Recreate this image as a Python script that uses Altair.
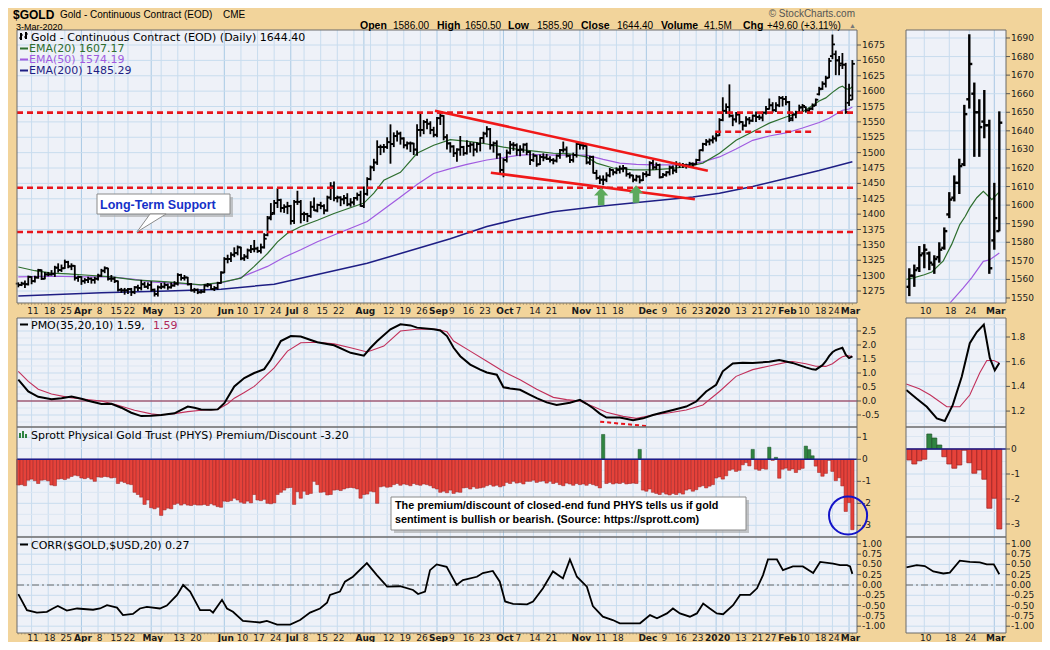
import altair as alt
import pandas as pd

# ---------------- price bars: (open, high, low, close) per trading day ----------------
MAR19 = [(1287,1289,1281,1285),(1285,1290,1283,1287),(1287,1292,1280,1286),(1286,1300,1284,1298),
         (1298,1299,1286,1291),(1291,1300,1289,1297),(1297,1311,1295,1309),(1309,1310,1293,1295),(1295,1306,1294,1302),
         (1302,1306,1299,1302),(1302,1309,1300,1303),(1303,1316,1298,1313),(1313,1320,1305,1309),(1309,1318,1306,1312),
         (1312,1326,1311,1322),(1322,1324,1312,1315),(1315,1320,1309,1316),(1316,1317,1292,1296),(1296,1300,1290,1298)]
APR19 = [(1298,1299,1285,1291),(1291,1296,1287,1293),(1293,1298,1288,1295),(1295,1297,1287,1293),(1293,1298,1287,1295),
         (1295,1303,1292,1300),(1300,1311,1298,1308),(1308,1315,1304,1312),(1312,1313,1292,1295),(1295,1301,1290,1295),
         (1295,1298,1288,1291),(1291,1292,1274,1277),(1277,1280,1272,1276),(1276,1280,1269,1276),
         (1276,1280,1270,1278),(1278,1280,1267,1273),(1273,1283,1270,1281),(1281,1285,1275,1280),(1280,1293,1276,1286),
         (1286,1290,1280,1282),(1282,1289,1278,1285)]
MAY19 = [(1285,1291,1274,1277),(1277,1279,1266,1270),(1270,1284,1266,1281),
         (1281,1288,1278,1282),(1282,1289,1279,1285),(1285,1287,1277,1281),(1281,1289,1279,1284),(1284,1291,1282,1287),
         (1287,1304,1284,1301),(1301,1303,1292,1296),(1296,1301,1292,1297),(1297,1298,1284,1286),(1286,1288,1274,1276),
         (1276,1280,1272,1277),(1277,1279,1270,1273),(1273,1277,1271,1274),(1274,1286,1272,1284),(1284,1288,1281,1285),
         (1285,1286,1277,1278),(1278,1283,1275,1280),(1280,1290,1277,1288),(1288,1307,1287,1305)]
JUN19 = [(1305,1330,1304,1327),(1327,1334,1320,1327),(1327,1338,1322,1334),(1334,1346,1330,1337),(1337,1349,1333,1346),
         (1346,1347,1325,1328),(1328,1335,1324,1331),(1331,1344,1327,1341),(1341,1350,1337,1343),(1343,1358,1338,1344),
         (1344,1347,1337,1340),(1340,1352,1336,1346),(1346,1369,1344,1360),(1366,1397,1364,1393),(1395,1418,1390,1400),
         (1402,1423,1399,1418),(1418,1442,1410,1423),(1423,1425,1403,1410),(1410,1416,1402,1412),(1412,1420,1400,1413)]
JUL19 = [(1413,1415,1383,1389),(1389,1423,1384,1420),(1420,1438,1415,1420),(1420,1423,1385,1400),
         (1400,1404,1389,1400),(1400,1402,1387,1397),(1397,1421,1394,1412),(1412,1427,1405,1406),(1406,1417,1403,1415),
         (1415,1420,1408,1413),(1413,1416,1400,1406),(1406,1430,1404,1427),(1427,1452,1423,1445),(1445,1453,1421,1426),
         (1426,1430,1419,1427),(1427,1429,1413,1424),(1424,1431,1416,1426),(1426,1434,1413,1416),(1416,1426,1412,1419),
         (1419,1428,1414,1426),(1426,1435,1422,1431),(1431,1438,1412,1413)]
AUG19 = [(1413,1445,1410,1433),(1433,1460,1430,1457),
         (1457,1479,1455,1476),(1476,1490,1470,1484),(1484,1520,1480,1509),(1509,1513,1496,1509),(1509,1514,1500,1509),
         (1509,1525,1506,1517),(1517,1546,1482,1514),(1514,1533,1509,1527),(1527,1536,1518,1531),(1531,1534,1513,1523),
         (1523,1525,1507,1512),(1512,1518,1505,1515),(1515,1518,1501,1515),(1515,1516,1496,1505),(1505,1546,1495,1537),
         (1537,1566,1526,1537),(1537,1553,1530,1550),(1550,1555,1538,1547),(1547,1551,1530,1537),(1537,1542,1525,1529)]
SEP19 = [(1529,1558,1525,1556),(1556,1566,1545,1560),(1560,1561,1520,1525),(1525,1530,1505,1515),
         (1515,1517,1500,1510),(1510,1512,1493,1499),(1499,1507,1485,1505),(1505,1527,1495,1509),(1509,1511,1495,1499),
         (1499,1520,1497,1511),(1511,1517,1500,1513),(1513,1517,1494,1505),(1505,1517,1500,1514),(1514,1525,1502,1524),
         (1524,1534,1515,1531),(1531,1543,1525,1538),(1538,1540,1505,1512),(1512,1518,1500,1515),(1515,1520,1490,1497),
         (1497,1499,1465,1472)]
OCT19 = [(1472,1491,1460,1488),(1488,1505,1484,1500),(1500,1519,1497,1513),(1513,1517,1503,1512),
         (1512,1515,1495,1504),(1504,1512,1494,1505),(1505,1515,1500,1513),(1513,1516,1496,1501),(1501,1503,1480,1488),
         (1488,1499,1485,1495),(1495,1496,1477,1481),(1481,1497,1480,1493),(1493,1499,1486,1492),(1492,1498,1488,1490),
         (1490,1494,1484,1488),(1488,1491,1481,1487),(1487,1497,1484,1495),(1495,1506,1490,1504),(1504,1518,1500,1505),
         (1505,1510,1492,1495),(1495,1497,1483,1488),(1488,1500,1484,1496),(1496,1516,1492,1514)]
NOV19 = [(1514,1517,1505,1512),
         (1512,1515,1505,1511),(1511,1512,1481,1484),(1484,1495,1480,1493),(1493,1495,1466,1467),(1467,1472,1456,1459),
         (1459,1463,1449,1456),(1456,1463,1447,1456),(1456,1468,1452,1463),(1463,1475,1460,1472),(1472,1473,1463,1468),
         (1468,1476,1465,1472),(1472,1479,1466,1474),(1474,1480,1468,1475),(1475,1476,1461,1465),(1465,1468,1458,1463),
         (1463,1464,1452,1456),(1456,1464,1453,1461),(1461,1463,1450,1455),(1455,1468,1454,1465)]
DEC19 = [(1465,1470,1460,1464),(1464,1486,1462,1483),(1483,1488,1472,1476),(1476,1484,1472,1480),(1480,1482,1458,1460),
         (1460,1467,1459,1464),(1464,1470,1461,1468),(1468,1479,1463,1476),(1476,1479,1465,1471),(1471,1486,1467,1481),
         (1481,1484,1475,1480),(1480,1483,1475,1480),(1480,1482,1474,1479),(1479,1485,1475,1482),(1482,1484,1475,1481),
         (1481,1490,1480,1488),(1488,1505,1486,1504),(1504,1516,1502,1514),(1514,1522,1511,1518),
         (1518,1523,1512,1520),(1520,1528,1515,1523)]
JAN20 = [(1523,1532,1518,1528),(1528,1556,1527,1553),
         (1553,1590,1551,1568),(1568,1580,1563,1574),(1574,1611,1557,1560),(1560,1562,1543,1554),(1554,1566,1549,1562),
         (1562,1563,1546,1550),(1550,1551,1536,1544),(1544,1559,1542,1554),(1554,1558,1546,1552),(1552,1562,1550,1560),
         (1560,1567,1550,1558),(1558,1562,1553,1557),(1557,1567,1551,1565),(1565,1576,1562,1571),
         (1571,1588,1570,1577),(1577,1582,1565,1569),(1569,1582,1566,1577),(1577,1592,1574,1589),(1589,1592,1575,1587)]
FEB20 = [(1587,1592,1577,1582),(1582,1584,1550,1553),(1556,1566,1551,1562),(1562,1568,1556,1565),(1566,1578,1564,1573),
         (1574,1579,1566,1576),(1574,1575,1565,1569),(1568,1573,1563,1571),(1572,1580,1569,1576),(1577,1588,1576,1586),
         (1595,1607,1593,1603),(1604,1616,1602,1612),(1612,1625,1606,1621),(1622,1654,1621,1649),
         (1657,1692,1652,1676),(1660,1666,1626,1650),(1650,1657,1626,1642),(1645,1662,1636,1643),(1643,1646,1563,1566)]
MAR20 = [(1581,1612,1576,1593),(1586,1650.5,1585.9,1644.4)]

# ---------------- moving averages (day index, value) ----------------
EMA20 = [(0,1314),(5,1308),(10,1304),(15,1303),(20,1301),(28,1298),(35,1293),(45,1290),(55,1285),(61,1289),
         (67,1296),(71,1315),(75,1336),(78,1355),(81,1369),(85,1380),(90,1390),(95,1401),(104,1418),(107,1434),
         (110,1455),(115,1468),(120,1499),(125,1512),(130,1521),(136,1518),(141,1514),(146,1509),(151,1505),
         (156,1502),(161,1499),(166,1498),(171,1493),(174,1483),(179,1475),(185,1472),(191,1472),(196,1474),
         (201,1477),(206,1483),(211,1499),(216,1520),(221,1534),(226,1548),(231,1558),(236,1566),(241,1584),
         (243,1589),(245,1598),(247,1606),(248,1608),(249,1604),(250,1603),(251,1607.17)]
EMA50 = [(0,1298),(10,1299),(20,1298),(28,1298),(35,1294),(40,1290),(48,1287),(55,1285),(61,1288),(66,1295),
         (70,1304),(75,1315),(80,1330),(85,1342),(90,1355),(95,1366),(100,1377),(105,1388),(110,1408),(115,1428),
         (120,1448),(125,1466),(130,1474),(135,1481),(141,1488),(146,1492),(151,1496),(156,1497),(161,1496),
         (166,1496),(171,1496),(176,1489),(181,1483),(186,1481),(191,1480),(196,1480),(201,1480),(206,1485),
         (211,1493),(216,1506),(221,1520),(226,1527),(231,1532),(236,1540),(241,1549),(244,1556),(248,1569),
         (250,1571),(251,1574.19)]
EMA200 = [(0,1267),(25,1272),(45,1275),(61,1278),(77,1286),(95,1308),(105,1320),(115,1336),(130,1360),
          (141,1380),(151,1393),(161,1404),(175,1413),(190,1421),(203,1428),(211,1434),(221,1445),(231,1458),
          (241,1471),(251,1485.29)]
EMA20_R = [(232.4,1560),(234,1561),(236,1562.5),(237.5,1564),(239.8,1570),(241.5,1579),(243.1,1589.5),
           (244.2,1594),(245.1,1598.5),(246.5,1604),(247.8,1607.4),(249.5,1603),(251,1607.17)]
EMA50_R = [(241.2,1547.5),(243.8,1555.4),(245.5,1561),(247.8,1569.7),(249.1,1570.6),(251,1574.19)]

# ---------------- PMO and its signal ----------------
PMO = [(0,0.76),(3,0.34),(6,0.15),(10,0.06),(13,0.1),(16,0.16),(19,0.08),(21,0.01),(25,-0.11),(28,-0.1),
       (31,-0.24),(34,-0.42),(37,-0.54),(40,-0.53),(43,-0.5),(47,-0.44),(51,-0.2),(53,-0.24),(55,-0.3),(58,-0.31),
       (60,-0.3),(62,-0.08),(65,0.52),(68,0.82),(71,1.0),(74,1.14),(76,1.48),(79,2.14),(82,2.32),(85,2.3),
       (88,2.18),(90,2.1),(95,1.99),(100,1.72),(104,1.62),(106,1.9),(108,2.14),(112,2.56),(115,2.74),(118,2.7),
       (120,2.62),(125,2.56),(127,2.52),(129,2.32),(131,1.9),(133,1.6),(136,1.3),(139,1.12),(141,1.02),(144,0.94),
       (146,0.49),(148,0.45),(151,0.4),(154,0.22),(156,0.1),(159,-0.05),(162,-0.14),(166,-0.06),(169,0.04),
       (171,-0.1),(173,-0.26),(175,-0.45),(177,-0.59),(181,-0.59),(185,-0.69),(188,-0.62),(191,-0.5),(193,-0.44),
       (197,-0.32),(201,-0.2),(204,-0.02),(207,0.34),(210,0.58),(212,1.06),(215,1.34),(218,1.37),(221,1.36),
       (226,1.40),(229,1.46),(230,1.44),(233,1.36),(235,1.28),(237,1.2),(239,1.13),(240,1.12),(242,1.28),
       (243,1.42),(244,1.6),(245,1.74),(246,1.82),(247,1.86),(248,1.9),(249,1.65),(250,1.53),(251,1.59)]
PMO_SIG = [(0,1.06),(3,0.7),(6,0.42),(10,0.25),(15,0.13),(20,0.06),(25,0.0),(30,-0.15),(35,-0.33),(40,-0.46),
           (43,-0.5),(47,-0.45),(51,-0.38),(55,-0.33),(60,-0.3),(63,-0.1),(65,0.1),(68,0.3),(71,0.52),(74,0.85),
           (77,1.18),(81,1.78),(85,2.08),(90,2.1),(95,2.04),(100,1.9),(105,1.75),(110,1.96),(115,2.5),(120,2.56),
           (126,2.56),(129,2.47),(131,2.14),(136,1.78),(141,1.42),(146,1.05),(151,0.76),(156,0.42),(161,0.13),
           (165,0.05),(169,0.0),(173,-0.2),(177,-0.4),(182,-0.55),(186,-0.62),(191,-0.5),(196,-0.42),(201,-0.32),
           (206,-0.14),(211,0.34),(216,0.88),(221,1.12),(226,1.25),(231,1.38),(233,1.41),(237,1.33),(240,1.24),
           (243,1.235),(245,1.33),(247,1.51),(248,1.58),(249,1.61),(250,1.61),(251,1.59)]
PMO_R = [(232.4,1.37),(234.5,1.30),(236.5,1.235),(238.5,1.14),(240.1,1.12),(241.7,1.25),(243.5,1.48),
         (245.1,1.75),(246.5,1.84),(247.9,1.90),(249.1,1.63),(250.1,1.53),(251,1.59)]
PMO_SIG_R = [(232.4,1.42),(235,1.38),(237.2,1.33),(240.5,1.235),(243.1,1.235),(245.1,1.33),(247.1,1.51),
             (248.5,1.61),(249.9,1.61),(251,1.59)]

# ---------------- PHYS premium/discount, one value per trading day ----------------
PHYS = [-1.17,-1.15,-1.2,-0.95,-0.9,-0.97,-1.1,-0.95,-0.93,-0.98,
        -1.17,-1.2,-0.9,-0.88,-0.92,-0.86,-0.78,-0.72,-0.75,-0.85,
        -0.88,-0.83,-0.9,-1.0,-0.8,-0.82,-0.78,-0.8,-0.85,-0.83,
        -1.1,-1.0,-1.05,-1.12,-1.15,-1.5,-1.6,-1.72,-2.05,-1.85,
        -2.2,-2.25,-2.18,-2.55,-2.3,-2.22,-2.25,-2.05,-2.0,-2.08,
        -2.02,-2.08,-2.1,-2.05,-2.08,-2.08,-2.05,-2.1,-2.02,-2.08,
        -2.15,-2.18,-1.9,-1.92,-1.88,-1.77,-1.85,-1.95,-2.0,-1.9,
        -1.98,-1.6,-1.85,-1.88,-1.82,-2.0,-2.02,-1.98,-1.6,-1.5,
        -1.4,-1.3,-1.28,-2.05,-1.47,-1.77,-1.45,-1.6,-1.55,-1.0,
        -1.15,-1.5,-1.48,-1.62,-1.6,-1.4,-1.38,-1.42,-1.35,-1.3,
        -1.28,-1.3,-1.35,-1.77,-1.6,-1.58,-1.45,-1.48,-2.0,-1.25,
        -1.22,-1.27,-1.25,-1.15,-1.1,-1.18,-1.12,-1.15,-1.2,-1.1,
        -1.15,-1.18,-1.12,-1.15,-1.2,-1.3,-1.35,-1.5,-1.45,-1.52,
        -1.4,-1.55,-1.48,-1.5,-1.3,-1.28,-1.35,-1.25,-1.32,-1.3,
        -1.27,-1.2,-1.15,-1.22,-1.18,-1.25,-1.2,-1.05,-1.1,-1.0,
        -1.08,-1.05,-1.12,-1.0,-1.0,-0.95,-1.05,-1.0,-0.98,-1.08,
        -1.0,-1.1,-1.05,-1.15,-1.2,-1.08,-1.12,-1.18,-1.1,-1.15,
        -1.12,-1.18,-1.1,-1.15,-1.2,-1.3,1.13,-1.1,-1.05,-1.12,
        -1.08,-1.1,-1.05,-1.12,-1.1,-1.08,-1.1,0.45,-1.4,-1.45,
        -1.35,-1.5,-1.55,-1.6,-1.5,-1.58,-1.62,-1.55,-1.6,-1.52,
        -1.58,-1.4,-1.35,-1.45,-1.38,-1.25,-1.2,-1.3,-1.22,-1.15,
        -0.85,-0.8,-0.9,-0.75,-0.5,-0.45,-0.55,-0.5,-0.25,-0.15,
        -0.3,0.45,-0.45,-0.5,-0.42,-0.45,0.55,-0.05,0.09,-0.86,
        -0.45,-0.4,-0.5,-0.44,-0.6,-0.47,-0.41,0.6,0.44,0.16,
        -0.31,-0.6,-0.77,-0.64,-0.05,-0.55,-0.97,-0.84,-1.21,-2.37,
        -1.97,-3.2]

# ---------------- CORR($GOLD,$USD,20) ----------------
CORR = [(0,-0.22),(2.6,-0.61),(5.6,-0.67),(8.6,-0.65),(10.4,-0.57),(11.9,-0.51),(14.6,-0.62),(17.7,-0.57),
        (22.5,-0.6),(24.6,-0.57),(26.7,-0.49),(29.7,-0.55),(31.5,-0.73),(34.5,-0.7),(36.6,-0.57),(38.7,-0.53),
        (42.6,-0.57),(44.7,-0.5),(47.8,-0.24),(49.6,0.0),(51.7,-0.16),(54.7,-0.61),(57.7,-0.61),(58.6,-0.67),
        (61.3,-0.36),(62.8,-0.57),(64.6,-0.65),(67.6,-0.87),(72.7,-0.91),(74.8,-0.87),(77.9,-0.96),(81.8,-0.96),
        (84.8,-0.85),(87.8,-0.67),(90.8,-0.57),(92.9,-0.43),(93.8,-0.24),(96.8,-0.16),(98.3,0.08),(100.7,0.2),
        (104.9,0.53),(107.9,0.24),(111,-0.04),(114.9,-0.03),(118.8,-0.12),(120.3,-0.22),(122.4,-0.16),
        (123.9,0.36),(125.9,0.5),(128.9,0.44),(131.9,0.0),(133.8,0.12),(138,0.2),(139.8,0.29),(142.8,0.34),
        (144.9,0.08),(146.5,-0.4),(148.9,-0.46),(153.1,-0.47),(154.9,-0.4),(157.9,-0.08),(160.9,0.33),
        (163.9,0.16),(166,0.62),(168.1,0.2),(171.1,-0.04),(172.9,-0.51),(175.9,-0.77),(178.9,-0.85),(181,-0.93),
        (187.1,-0.93),(190.1,-0.73),(192.2,-0.81),(195.2,-0.69),(197,-0.57),(199.1,-0.69),(202.1,-0.77),
        (204.2,-0.69),(206.1,-0.45),(208.1,-0.57),(210.2,-0.69),(212.1,-0.71),(215.1,-0.49),(217.2,-0.24),
        (220.2,-0.24),(222.3,-0.08),(224.1,0.24),(225.6,0.62),(228.3,0.62),(230.1,0.36),(233.1,0.45),
        (236.1,0.45),(239.2,0.29),(241.3,0.56),(245.2,0.52),(247.3,0.48),(249.4,0.48),(250.3,0.45),(251,0.27)]
CORR_R = [(232.4,0.43),(234.5,0.48),(236.1,0.46),(237.8,0.33),(239.8,0.28),(241.1,0.3),(243.1,0.59),
          (245.1,0.56),(247.1,0.55),(248.5,0.5),(249.9,0.5),(251,0.26)]

# ---------------- annotations (day index, value) ----------------
LEVELS = [1565, 1443, 1371]
SHORT_LEVEL = (209.7, 239.8, 1534)
TREND_UP = [(125.4, 1568.2), (207.5, 1470.6)]
TREND_LO = [(142.2, 1467.4), (203.6, 1424.1)]
ARROWS = [(175.4, 1428.7), (185.9, 1432.7)]
PMO_DIV = [(175.1, -0.74), (189.5, -0.9)]
CIRCLE = (249.7, -2.55)

# ---------------- axis tick labels ----------------
LBL_IDX = [4,9,14,19,24,29,33,40,48,53,62,67,72,77,82,86,91,96,104,111,116,121,126,130,135,140,146,150,155,160,
           169,175,180,189,194,199,204,210,217,222,226,231,236,241,245,250]
LBL_TXT = ["11","18","25","Apr","8","15","22","May","13","20","Jun","10","17","24","Jul","8","15","22","Aug","12",
           "19","26","Sep","9","16","23","Oct","7","14","21","Nov","11","18","Dec","9","16","23","2020","13","21",
           "27","Feb","10","18","24","Mar"]
EXTRA_WEEKS = [43, 101, 106, 145, 170, 185, 212]
MONTHS = {"Apr","May","Jun","Jul","Aug","Sep","Oct","Nov","Dec","2020","Feb","Mar"}
R_LBL_IDX = [236, 241, 245, 250]
R_LBL_TXT = ["10", "18", "24", "Mar"]
PRICE_TICKS = [1275 + 25 * k for k in range(17)]
PRICE_TICKS_R = [1550 + 10 * k for k in range(15)]
PMO_TICKS = [-0.5, 0.0, 0.5, 1.0, 1.5, 2.0, 2.5]
PMO_TICKS_R = [1.2, 1.4, 1.6, 1.8]
PHYS_TICKS = [1, 0, -1, -2, -3]
PHYS_TICKS_R = [0, -1, -2, -3]
CORR_TICKS = [1.0, 0.75, 0.5, 0.25, 0.0, -0.25, -0.5, -0.75, -1.0]

# ======================================================================
OFF = 8
W, H = 1034, 634
BG = "#F2D49B"
PLOT_BG = "#EEF1F8"
GRID = "#C8DCEE"
GRID_M = "#A9C9E4"
FONT_AX = "DejaVu Sans"


def S(domain, rng):
    return alt.Scale(domain=domain, range=[r - OFF for r in rng], nice=False, zero=False)


XL = S([-0.39, 252.39], [17, 857])
XR = S([232.34, 252.34], [906, 1006])
YM_L = S([1255.5, 1699.4], [303, 30])
YM_R = S([1547.3, 1694.3], [303, 30])
YP_L = S([-0.929, 2.964], [427, 318])
YP_R = S([1.071, 1.954], [427, 318])
YH_L = S([-3.53, 1.468], [537, 427])
YH_R = S([-3.52, 0.88], [537, 427])
YC = S([-1.165, 1.165], [633, 537])


def QX(f, s):
    return alt.X(f + ":Q", scale=s, axis=None)


def QY(f, s):
    return alt.Y(f + ":Q", scale=s, axis=None)


def PX(f):
    return alt.X(f + ":Q", scale=None, axis=None)


def PY(f):
    return alt.Y(f + ":Q", scale=None, axis=None)


layers = []

LEFT, RIGHT = (17, 857), (906, 1006)
ROWS = [(30, 303), (318, 427), (427, 537), (537, 633)]
panels = pd.DataFrame([dict(x=a - OFF, x2=b - OFF, y=c - OFF, y2=d - OFF)
                       for (a, b) in (LEFT, RIGHT) for (c, d) in ROWS])
layers.append(alt.Chart(panels).mark_rect(fill=PLOT_BG).encode(x=PX("x"), x2="x2", y=PY("y"), y2="y2"))


def vgrid(idx, xs, color):
    rows = [dict(i=i, y0=a - OFF, y1=b - OFF) for i in idx for (a, b) in [(30, 303), (318, 633)]]
    return alt.Chart(pd.DataFrame(rows)).mark_rule(color=color, strokeWidth=1).encode(
        x=QX("i", xs), y=PY("y0"), y2="y1")


week_idx = [i for i, t in zip(LBL_IDX, LBL_TXT) if t not in MONTHS] + EXTRA_WEEKS
month_idx = [i for i, t in zip(LBL_IDX, LBL_TXT) if t in MONTHS]
layers.append(vgrid(week_idx, XL, GRID))
layers.append(vgrid(month_idx, XL, GRID_M))
layers.append(vgrid([i for i, t in zip(R_LBL_IDX, R_LBL_TXT) if t != "Mar"], XR, GRID))
layers.append(vgrid([i for i, t in zip(R_LBL_IDX, R_LBL_TXT) if t == "Mar"], XR, GRID_M))


def hline(vals, ys, x0, x1, color=GRID, w=1.0, dash=None):
    kw = dict(color=color, strokeWidth=w)
    if dash:
        kw["strokeDash"] = dash
    return alt.Chart(pd.DataFrame({"v": vals})).mark_rule(**kw).encode(
        x=alt.value(x0 - OFF), x2=alt.value(x1 - OFF), y=QY("v", ys))


layers += [
    hline(PRICE_TICKS, YM_L, *LEFT),
    hline(PRICE_TICKS_R, YM_R, *RIGHT),
    hline([v + 0.25 for v in PMO_TICKS if v < 2.9] + [-0.75], YP_L, *LEFT, color="#DCE6F2"),
    hline(PMO_TICKS, YP_L, *LEFT),
    hline([1.1, 1.3, 1.5, 1.7, 1.9], YP_R, *RIGHT, color="#DCE6F2"),
    hline(PMO_TICKS_R, YP_R, *RIGHT),
    hline([0.5, -0.5, -1.5, -2.5, -3.5], YH_L, *LEFT, color="#DCE6F2"),
    hline(PHYS_TICKS, YH_L, *LEFT),
    hline([0.5, -0.5, -1.5, -2.5, -3.5], YH_R, *RIGHT, color="#DCE6F2"),
    hline(PHYS_TICKS_R, YH_R, *RIGHT),
    hline(CORR_TICKS, YC, *LEFT),
    hline(CORR_TICKS, YC, *RIGHT),
]

# ---------------- price panel ----------------
bars = pd.DataFrame(MAR19 + APR19 + MAY19 + JUN19 + JUL19 + AUG19 + SEP19 + OCT19 + NOV19 + DEC19
                    + JAN20 + FEB20 + MAR20, columns=["o", "h", "l", "c"])
bars["i"] = range(len(bars))


def ohlc(df, xs, ys, w, t):
    df = df.copy()
    df["il"] = df["i"] - t
    df["ir"] = df["i"] + t
    base = alt.Chart(df)
    return [
        base.mark_rule(color="black", strokeWidth=w).encode(x=QX("i", xs), y=QY("l", ys), y2="h"),
        base.mark_rule(color="black", strokeWidth=w).encode(x=QX("il", xs), x2="i", y=QY("o", ys)),
        base.mark_rule(color="black", strokeWidth=w).encode(x=QX("i", xs), x2="ir", y=QY("c", ys)),
    ]


def line(pts, xs, ys, color, w, dash=None, cols=("i", "v")):
    kw = dict(color=color, strokeWidth=w)
    if dash:
        kw["strokeDash"] = dash
    return alt.Chart(pd.DataFrame(pts, columns=list(cols))).mark_line(**kw).encode(
        x=QX(cols[0], xs), y=QY(cols[1], ys))


EMA20_C, EMA50_C, EMA200_C = "#2E6E2E", "#A05BE0", "#1E1E84"
layers += [
    line(EMA200, XL, YM_L, EMA200_C, 1.5),
    line(EMA50, XL, YM_L, EMA50_C, 1.2),
    line(EMA20, XL, YM_L, EMA20_C, 1.2),
]
layers += ohlc(bars, XL, YM_L, 1.8, 0.75)
layers += [
    line(EMA50_R, XR, YM_R, EMA50_C, 1.2),
    line(EMA20_R, XR, YM_R, EMA20_C, 1.2),
]
layers += ohlc(bars[bars["i"] >= 233], XR, YM_R, 2.4, 0.6)

RED = "#E8141B"
layers.append(hline(LEVELS, YM_L, *LEFT, color=RED, w=2.6, dash=[6, 4]))
sl = pd.DataFrame([dict(i0=SHORT_LEVEL[0], i1=SHORT_LEVEL[1], p=SHORT_LEVEL[2])])
layers.append(alt.Chart(sl).mark_rule(color=RED, strokeWidth=2.4, strokeDash=[6, 4]).encode(
    x=QX("i0", XL), x2="i1", y=QY("p", YM_L)))
layers.append(line(TREND_UP, XL, YM_L, "#F01818", 2.6))
layers.append(line(TREND_LO, XL, YM_L, "#F01818", 2.6))
ARROW_PATH = "M0,-1L0.82,-0.1L0.38,-0.1L0.38,1L-0.38,1L-0.38,-0.1L-0.82,-0.1Z"
layers.append(alt.Chart(pd.DataFrame(ARROWS, columns=["i", "p"])).mark_point(
    shape=ARROW_PATH, filled=True, size=300, color="#5DAA5D", opacity=1).encode(x=QX("i", XL), y=QY("p", YM_L)))

# ---------------- PMO panel ----------------
layers.append(hline([0], YP_L, *LEFT, color="#8B1A3A", w=1.2))
layers.append(line(PMO_SIG, XL, YP_L, "#C2305A", 1.1))
layers.append(line(PMO, XL, YP_L, "black", 2))
layers.append(line(PMO_DIV, XL, YP_L, RED, 2, dash=[4, 3]))
layers.append(line(PMO_SIG_R, XR, YP_R, "#C2305A", 1.1))
layers.append(line(PMO_R, XR, YP_R, "black", 2))

# ---------------- PHYS panel ----------------
phys = pd.DataFrame({"v": PHYS})
phys["i"] = range(len(phys))
phys["il"] = phys["i"] - 0.5
phys["ir"] = phys["i"] + 0.5
phys["z"] = 0.0


def physbars(df, xs, ys, sw):
    neg, pos = df[df["v"] < 0], df[df["v"] >= 0]
    return [
        alt.Chart(neg).mark_rect(fill="#E5423A", stroke="#9A1E1E", strokeWidth=sw).encode(
            x=QX("il", xs), x2="ir", y=QY("z", ys), y2="v"),
        alt.Chart(pos).mark_rect(fill="#2F8440", stroke="#1D5228", strokeWidth=sw).encode(
            x=QX("il", xs), x2="ir", y=QY("z", ys), y2="v"),
    ]


layers += physbars(phys, XL, YH_L, 0.5)
layers += physbars(phys[phys["i"] >= 233], XR, YH_R, 0.7)
layers.append(hline([0], YH_L, *LEFT, color="#1C1C8C", w=1.5))
layers.append(hline([0], YH_R, *RIGHT, color="#1C1C8C", w=1.5))

# ---------------- CORR panel ----------------
layers.append(hline([0], YC, *LEFT, color="#6A6A6A", w=1, dash=[7, 3, 2, 3]))
layers.append(hline([0], YC, *RIGHT, color="#6A6A6A", w=1, dash=[7, 3, 2, 3]))
layers.append(line(CORR, XL, YC, "black", 1.8))
layers.append(line(CORR_R, XR, YC, "black", 1.8))

layers.append(alt.Chart(panels).mark_rect(fillOpacity=0, stroke="#6A6A6A", strokeWidth=1).encode(
    x=PX("x"), x2="x2", y=PY("y"), y2="y2"))

dt = pd.DataFrame([dict(i=i, y0=a - OFF, y1=b - OFF) for i in range(len(bars)) for (a, b) in [(303, 305), (633, 634.5)]])
layers.append(alt.Chart(dt).mark_rule(color="#8A7A5A", strokeWidth=0.6).encode(x=QX("i", XL), y=PY("y0"), y2="y1"))


def ylabels(vals, texts, ys, xpix):
    df = pd.DataFrame({"v": vals, "t": texts})
    return [
        alt.Chart(df).mark_rule(color="#555").encode(x=alt.value(xpix - OFF), x2=alt.value(xpix - OFF + 4), y=QY("v", ys)),
        alt.Chart(df).mark_text(align="left", baseline="middle", font=FONT_AX, fontSize=9, color="#1A1A1A").encode(
            x=alt.value(xpix - OFF + 5), y=QY("v", ys), text="t:N"),
    ]


layers += ylabels(PRICE_TICKS, [str(v) for v in PRICE_TICKS], YM_L, 857)
layers += ylabels(PRICE_TICKS_R, [str(v) for v in PRICE_TICKS_R], YM_R, 1006)
layers += ylabels(PMO_TICKS, ["%.1f" % v for v in PMO_TICKS], YP_L, 857)
layers += ylabels(PMO_TICKS_R, ["%.1f" % v for v in PMO_TICKS_R], YP_R, 1006)
layers += ylabels(PHYS_TICKS, [str(v) for v in PHYS_TICKS], YH_L, 857)
layers += ylabels(PHYS_TICKS_R, [str(v) for v in PHYS_TICKS_R], YH_R, 1006)
layers += ylabels(CORR_TICKS, ["%.2f" % v for v in CORR_TICKS], YC, 857)
layers += ylabels(CORR_TICKS, ["%.2f" % v for v in CORR_TICKS], YC, 1006)


def xlabels(idx, texts, xs, ypix):
    df = pd.DataFrame({"i": idx, "t": texts})
    df["b"] = df["t"].isin(MONTHS)
    out = []
    for bold in (False, True):
        sub = df[df["b"] == bold]
        out.append(alt.Chart(sub).mark_text(
            align="center", baseline="middle", font=FONT_AX, fontSize=9, dx=1.5,
            fontWeight="bold" if bold else "normal", color="#1A1A1A").encode(
            x=QX("i", xs), y=alt.value(ypix - OFF), text="t:N"))
    return out


for yp in (311, 637.5):
    layers += xlabels(LBL_IDX, LBL_TXT, XL, yp)
    layers += xlabels(R_LBL_IDX, R_LBL_TXT, XR, yp)


def prect(items, fill, stroke=None, sw=1, opacity=1.0):
    df = pd.DataFrame([dict(x=a - OFF, y=b - OFF, x2=c - OFF, y2=d - OFF) for a, b, c, d in items])
    kw = dict(fill=fill, fillOpacity=opacity)
    if stroke:
        kw.update(stroke=stroke, strokeWidth=sw)
    return alt.Chart(df).mark_rect(**kw).encode(x=PX("x"), x2="x2", y=PY("y"), y2="y2")


layers.append(prect([(100, 197, 233, 217), (394, 500, 749, 533)], "#9A9A9A", opacity=0.55))
layers.append(prect([(97, 194, 230, 214), (391, 497, 746, 530)], "white", stroke="#8A8A8A"))
POINTER = "M-0.1,-0.6L0.97,-0.6L-0.97,0.6Z"
layers.append(alt.Chart(pd.DataFrame({"a": [0]})).mark_point(
    shape=POINTER, size=900, filled=True, fill="white", stroke="#8A8A8A", strokeWidth=1, opacity=1).encode(
    x=alt.value(151.5 - OFF), y=alt.value(223 - OFF)))
layers.append(alt.Chart(pd.DataFrame([dict(i=CIRCLE[0], v=CIRCLE[1])])).mark_point(
    shape="circle", size=1450, filled=False, stroke="#1414C8", strokeWidth=2, opacity=1).encode(
    x=QX("i", XL), y=QY("v", YH_L)))


def ptext(items, size, color="#000", bold=False, font="Liberation Sans", align="left"):
    df = pd.DataFrame(items, columns=["x", "y", "t"])
    df["x"] = df["x"] - OFF
    df["y"] = df["y"] - OFF
    return alt.Chart(df).mark_text(fontSize=size, color=color, fontWeight="bold" if bold else "normal",
                                   font=font, align=align, baseline="alphabetic").encode(
        x=PX("x"), y=PY("y"), text="t:N")


layers += [
    ptext([(100, 209, "Long-Term Support")], 12.5, "#1531C8", bold=True),
    ptext([(395, 509, "The premium/discount of closed-end fund PHYS tells us if gold"),
           (395, 523, "sentiment is bullish or bearish. (Source: https://sprott.com)")], 10.8, "#000", bold=True),
    # header
    ptext([(13, 18.5, "$GOLD")], 12, "#000", bold=True),
    ptext([(60, 17.5, "Gold - Continuous Contract (EOD)"), (223, 17.5, "CME")], 10, "#000"),
    ptext([(16, 29.5, "3-Mar-2020")], 9, "#000"),
    ptext([(393, 29, "1586.00"), (465, 29, "1650.50"), (537, 29, "1585.90"), (617, 29, "1644.40"),
           (704, 29, "41.5M"), (767, 29, "+49.60 (+3.11%)")], 10, "#000"),
    ptext([(360, 29, "Open"), (437, 29, "High"), (508, 29, "Low"), (581, 29, "Close"),
           (661, 29, "Volume"), (743, 29, "Chg")], 10.5, "#000", bold=True),
    ptext([(855, 17, "\u00a9 StockCharts.com")], 10, "#555", align="right"),
    ptext([(849, 28, "\u25b2")], 7, "#777"),
    # legends
    ptext([(31, 40.5, "Gold - Continuous Contract (EOD) (Daily) 1644.40"),
           (31, 328.5, "PMO(35,20,10) 1.59,"),
           (31, 438.5, "Sprott Physical Gold Trust (PHYS) Premium/Discount -3.20"),
           (31, 548.5, "CORR($GOLD,$USD,20) 0.27")], 11, "#000", font=FONT_AX),
    ptext([(153, 328.5, "1.59")], 11, "#B0285A", font=FONT_AX),
    ptext([(29, 52, "EMA(20) 1607.17")], 11, EMA20_C, font=FONT_AX),
    ptext([(29, 63, "EMA(50) 1574.19")], 11, EMA50_C, font=FONT_AX),
    ptext([(29, 74, "EMA(200) 1485.29")], 11, EMA200_C, font=FONT_AX),
]

sw = pd.DataFrame([
    dict(x=20, x2=28, y=48.5, y2=48.5, c=EMA20_C), dict(x=20, x2=28, y=59.5, y2=59.5, c=EMA50_C),
    dict(x=20, x2=28, y=70.5, y2=70.5, c=EMA200_C), dict(x=20, x2=28, y=324.5, y2=324.5, c="#000"),
    dict(x=20, x2=28, y=544.5, y2=544.5, c="#000"),
    dict(x=21, x2=21, y=33, y2=40, c="#000"), dict(x=19.5, x2=21, y=38, y2=38, c="#000"),
    dict(x=21, x2=22.5, y=35, y2=35, c="#000"), dict(x=26, x2=26, y=32, y2=39, c="#000"),
    dict(x=24.5, x2=26, y=37, y2=37, c="#000"), dict(x=26, x2=27.5, y=34, y2=34, c="#000"),
])
for col in ("x", "x2", "y", "y2"):
    sw[col] = sw[col] - OFF
layers.append(alt.Chart(sw).mark_rule(strokeWidth=2).encode(
    x=PX("x"), x2="x2", y=PY("y"), y2="y2", color=alt.Color("c:N", scale=None)))
layers.append(prect([(19, 433, 21, 438), (22, 431, 24, 438), (25, 434, 27, 438)], "#2F8440"))

chart = alt.layer(*layers).resolve_scale(x="independent", y="independent").properties(
    width=W, height=H, background=BG, padding=0, autosize=alt.AutoSizeParams(type="none")
).configure_view(stroke=None)

chart.save("out.html", embed_options={"renderer": "svg", "actions": False})
